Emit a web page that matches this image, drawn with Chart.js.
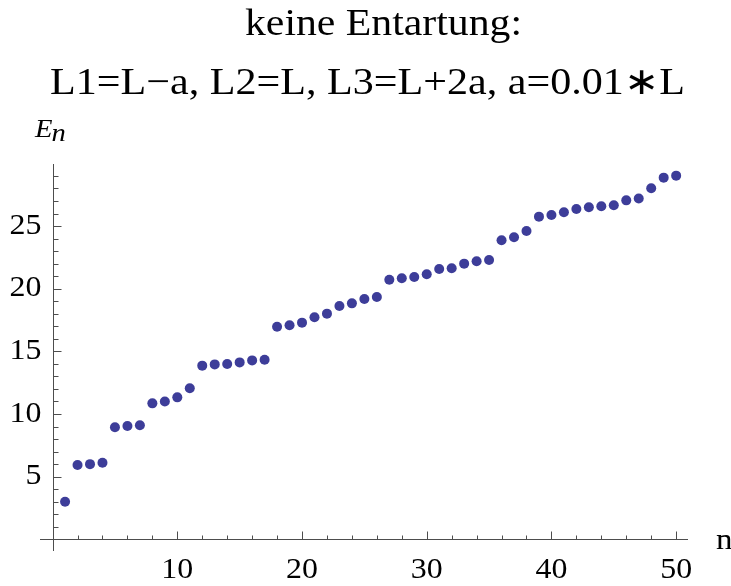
<!DOCTYPE html>
<html>
<head>
<meta charset="utf-8">
<script src="https://cdn.jsdelivr.net/npm/chart.js@4/dist/chart.umd.min.js"></script>
<style>
  html, body { margin: 0; padding: 0; background: #fff; }
  #wrap { width: 731px; height: 586px; position: relative; }
</style>
</head>
<body>
<div id="wrap"><canvas id="chart"></canvas></div>
<script>
// Titel und Achsenbeschriftungen
const titleLines = ['keine Entartung:', 'L1=L\u2212a, L2=L, L3=L+2a, a=0.01\u2217L']
const xAxisLabel = 'n'
const yAxisLabel = ['E', 'n']

// Energieniveaus
const levels = [
  1, 2, 3, 4, 5, 6, 7, 8, 9, 10,
  11, 12, 13, 14, 15, 16, 17, 18, 19, 20,
  21, 22, 23, 24, 25, 26, 27, 28, 29, 30,
  31, 32, 33, 34, 35, 36, 37, 38, 39, 40,
  41, 42, 43, 44, 45, 46, 47, 48, 49, 50
]
const energies = [
  3.0, 5.93, 6.0, 6.11, 8.94, 9.04, 9.1, 10.85, 11.0, 11.33,
  12.05, 13.86, 13.96, 13.99, 14.12, 14.28, 14.33, 16.97, 17.08, 17.29,
  17.72, 18.01, 18.62, 18.83, 19.18, 19.34, 20.72, 20.83, 20.93, 21.15,
  21.57, 21.63, 22.0, 22.19, 22.29, 23.86, 24.1, 24.6, 25.75, 25.88,
  26.1, 26.36, 26.5, 26.58, 26.66, 27.05, 27.2, 28.01, 28.86, 29.02
]

// Beschriftete Hauptstriche
const xTickLabels = [10, 20, 30, 40, 50]
const yTickLabels = [5, 10, 15, 20, 25]

const FONT = '"Liberation Serif", "Times New Roman", serif'
const STRETCH = 1.1

function drawText(ctx, text, x, y, font, align, stretch) {
  ctx.save()
  ctx.font = font
  ctx.textAlign = align
  ctx.translate(x, y)
  ctx.scale(stretch, 1)
  ctx.fillText(text, 0, 0)
  ctx.restore()
}

function drawFitted(ctx, text, left, baseline, font, width) {
  ctx.save()
  ctx.font = font
  const w = ctx.measureText(text).width
  ctx.textAlign = 'left'
  ctx.translate(left, baseline)
  ctx.scale(width / w, 1)
  ctx.fillText(text, 0, 0)
  ctx.restore()
}

// Achsen im Mathematica-Stil: durch den Ursprung, Striche nach innen
const axesPlugin = {
  id: 'mmaAxes',
  beforeDatasetsDraw(chart) {
    const { ctx, chartArea, scales } = chart
    const x = scales.x
    const y = scales.y
    const x0 = Math.round(x.getPixelForValue(0)) + 0.5
    const y0 = Math.round(y.getPixelForValue(0)) + 0.5

    ctx.save()
    ctx.strokeStyle = '#4d4d4d'
    ctx.lineWidth = 1
    ctx.beginPath()
    ctx.moveTo(chartArea.left, y0)
    ctx.lineTo(chartArea.right, y0)
    ctx.moveTo(x0, chartArea.top)
    ctx.lineTo(x0, chartArea.bottom)

    for (let v = 2; v <= 50; v += 2) {
      const px = Math.round(x.getPixelForValue(v)) + 0.5
      const len = v % 10 === 0 ? 8 : 4
      ctx.moveTo(px, y0)
      ctx.lineTo(px, y0 - len)
    }
    for (let v = 1; v <= 29; v++) {
      const py = Math.round(y.getPixelForValue(v)) + 0.5
      const len = v % 5 === 0 ? 8 : 5
      ctx.moveTo(x0, py)
      ctx.lineTo(x0 + len, py)
    }
    ctx.stroke()

    ctx.fillStyle = '#000'
    ctx.textBaseline = 'alphabetic'
    xTickLabels.forEach((v) => {
      drawText(ctx, String(v), x.getPixelForValue(v), y0 + 38, '29px ' + FONT, 'center', STRETCH)
    })
    ctx.textBaseline = 'middle'
    yTickLabels.forEach((v) => {
      drawText(ctx, String(v), x0 - 12, y.getPixelForValue(v), '29px ' + FONT, 'right', STRETCH)
    })

    // Achsentitel
    ctx.textBaseline = 'alphabetic'
    drawText(ctx, xAxisLabel, 716, 549, '30px ' + FONT, 'left', STRETCH)
    ctx.font = 'italic 26px ' + FONT
    const eWidth = ctx.measureText(yAxisLabel[0]).width * STRETCH
    drawText(ctx, yAxisLabel[0], 35, 137, 'italic 26px ' + FONT, 'left', STRETCH)
    drawText(ctx, yAxisLabel[1], 35 + eWidth - 1, 141, 'italic 26px ' + FONT, 'left', STRETCH)

    // Titel
    drawFitted(ctx, titleLines[0], 245, 35, '38px ' + FONT, 277)
    drawFitted(ctx, titleLines[1], 50, 94, '38px ' + FONT, 635)
    ctx.restore()
  }
}

const points = levels.map((n, i) => ({ x: n, y: energies[i] }))

new Chart(document.getElementById('chart'), {
  type: 'scatter',
  data: {
    datasets: [{
      data: points,
      backgroundColor: 'rgb(61, 61, 153)',
      borderWidth: 0,
      pointRadius: 5,
      pointHoverRadius: 5
    }]
  },
  options: {
    responsive: true,
    maintainAspectRatio: false,
    animation: false,
    layout: {
      padding: { left: 40, right: 43, top: 164, bottom: 35 }
    },
    plugins: {
      legend: { display: false },
      tooltip: { enabled: false },
      title: { display: false }
    },
    scales: {
      x: { type: 'linear', min: -1.01, max: 50.95, display: false },
      y: { type: 'linear', min: -0.93, max: 29.95, display: false }
    }
  },
  plugins: [axesPlugin]
})
</script>
</body>
</html>
